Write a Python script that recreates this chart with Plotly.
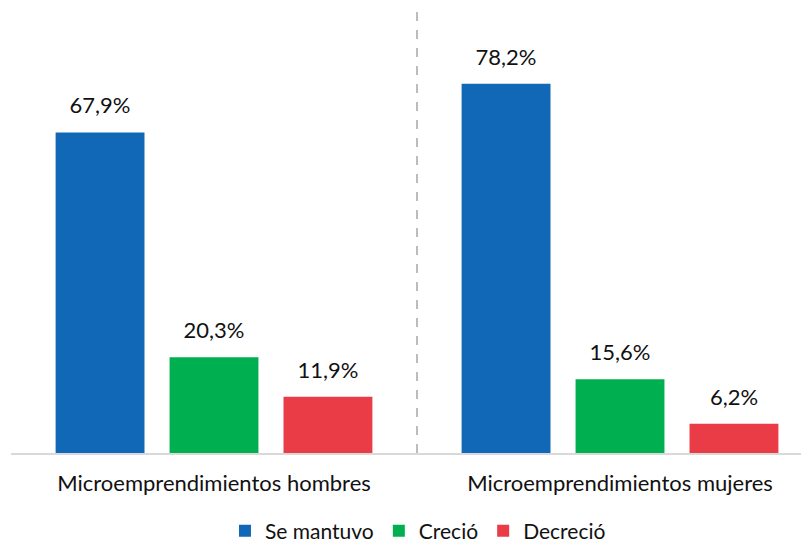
import plotly.graph_objects as go

categories = ["Microemprendimientos hombres", "Microemprendimientos mujeres"]
series_names = ["Se mantuvo", "Creció", "Decreció"]
se_mantuvo = [67.9, 78.2]
crecio = [20.3, 15.6]
decrecio = [11.9, 6.2]
colors = ["#1068b6", "#00b050", "#ea3c47"]

FONT = "Lato, Open Sans, sans-serif"
xpos = list(range(len(categories)))
fig = go.Figure()
for i, (name, vals, col) in enumerate(zip(series_names, [se_mantuvo, crecio, decrecio], colors)):
    fig.add_trace(go.Bar(
        x=xpos, y=vals, name=name, marker_color=col, marker_line_width=0,
        offsetgroup=str(i),
    ))
for i, (name, vals) in enumerate(zip(series_names, [se_mantuvo, crecio, decrecio])):
    fig.add_trace(go.Scatter(
        x=xpos, y=vals, mode="markers+text", showlegend=False, hoverinfo="skip",
        marker=dict(size=20, color="rgba(0,0,0,0)"),
        texttemplate="%{y:.1f}%", textposition="top center",
        textfont=dict(size=22, color="#111111", family=FONT),
        offsetgroup=str(i), cliponaxis=False,
    ))

fig.add_shape(type="line", x0=0.5, x1=0.5, xref="x", y0=0, y1=1, yref="paper",
              line=dict(color="#a6a6a6", width=1.5, dash="dash"))

fig.update_layout(
    width=801, height=570,
    margin=dict(l=3, r=0, t=4, b=125),
    paper_bgcolor="white", plot_bgcolor="white",
    separators=",.",
    barmode="group", bargap=0.158, bargroupgap=0.22,
    scattermode="group", scattergap=0.158,
    font=dict(family=FONT, size=22, color="#111111"),
    showlegend=True,
    legend=dict(orientation="h", x=0.51, xanchor="center", y=-0.177, yanchor="middle",
                font=dict(size=21), itemwidth=30, traceorder="normal"),
    xaxis=dict(range=[-0.5, 1.4655], tickvals=xpos, ticktext=categories,
               showline=True, linecolor="#d9d9d9", linewidth=2, showgrid=False,
               ticks="", zeroline=False, ticklabelstandoff=10,
               tickfont=dict(size=22)),
    yaxis=dict(range=[0, 93.4], visible=False, showgrid=False, zeroline=False),
)

fig.write_html("out.html")
